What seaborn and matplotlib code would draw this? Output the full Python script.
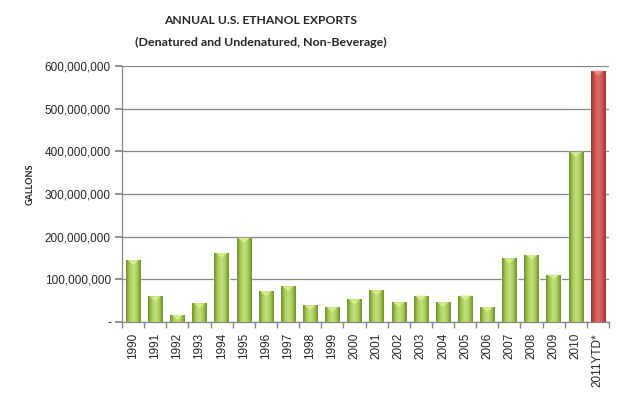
import numpy as np
import pandas as pd
import matplotlib
matplotlib.use("Agg")
import matplotlib.pyplot as plt
import seaborn as sns
from matplotlib.colors import LinearSegmentedColormap
from matplotlib.patches import Polygon

years = ["1990", "1991", "1992", "1993", "1994", "1995", "1996", "1997", "1998", "1999",
         "2000", "2001", "2002", "2003", "2004", "2005", "2006", "2007", "2008", "2009",
         "2010", "2011YTD*"]
gallons = [145e6, 60e6, 17e6, 44e6, 162e6, 197e6, 72e6, 84e6, 39e6, 35e6,
           53e6, 74e6, 46e6, 62e6, 46e6, 62e6, 35e6, 149e6, 157e6, 111e6,
           398e6, 589e6]
kind = ["annual"] * 21 + ["ytd"]
yticks = [0, 100e6, 200e6, 300e6, 400e6, 500e6, 600e6]
ytick_labels = ["-", "100,000,000", "200,000,000", "300,000,000", "400,000,000",
                "500,000,000", "600,000,000"]

df = pd.DataFrame({"year": years, "gallons": gallons, "kind": kind})

sns.set_theme(style="white")
plt.rcParams["font.family"] = ["Liberation Sans", "DejaVu Sans"]
title_family = ["Lato", "DejaVu Sans"]

fig = plt.figure(figsize=(6.24, 3.94), dpi=100)
ax = fig.add_axes([122/624, 1 - 322/394, (609-122)/624, (322-66)/394])

palette = {"annual": "#9bbb59", "ytd": "#c0504d"}
sns.barplot(data=df, x="year", y="gallons", hue="kind", palette=palette,
            width=0.65, dodge=False, legend=False, ax=ax, zorder=3, saturation=1)

cmaps = {
    "annual": LinearSegmentedColormap.from_list("g", ["#6f8f2a", "#a9cc5c", "#c2e07a", "#a9cc5c", "#6f8f2a"]),
    "ytd": LinearSegmentedColormap.from_list("r", ["#9a3431", "#cf5652", "#dc6a66", "#cf5652", "#9a3431"]),
}
cap_colors = {"annual": "#d4ec8c", "ytd": "#e88a86"}
grad = np.linspace(0, 1, 64).reshape(1, -1)
cap_depth = 12e6
for patch, k in zip(list(ax.patches), kind):
    x0, y0 = patch.get_x(), patch.get_y()
    w, h = patch.get_width(), patch.get_height()
    im = ax.imshow(grad, extent=[x0, x0 + w, y0, y0 + h], aspect="auto",
                   cmap=cmaps[k], zorder=3.5, interpolation="bicubic")
    im.set_clip_path(patch)
    d = min(cap_depth, h * 0.8)
    top = y0 + h
    cap = Polygon([(x0 + w * 0.12, top), (x0 + w * 0.88, top), (x0 + w / 2, top - d)],
                  closed=True, facecolor=cap_colors[k], edgecolor="none", zorder=3.6)
    ax.add_patch(cap)

ax.set_xlim(-0.5, len(years) - 0.5)
ax.set_ylim(0, 600e6)
ax.set_yticks(yticks)
ax.set_yticklabels(ytick_labels, fontsize=8.5)
ax.set_xticks(range(len(years)))
ax.set_xticklabels(years, rotation=90, fontsize=8.5)
ax.grid(axis="y", color="#868686", linewidth=0.9, zorder=0)
ax.set_axisbelow(True)

for s in ["top", "right"]:
    ax.spines[s].set_visible(False)
for s in ["left", "bottom"]:
    ax.spines[s].set_color("#868686")
    ax.spines[s].set_linewidth(0.9)

ax.tick_params(axis="x", length=0, pad=8)
ax.tick_params(axis="y", length=5, color="#868686", left=True, pad=3)
ax.set_xticks(np.arange(-0.5, len(years), 1), minor=True)
ax.tick_params(axis="x", which="minor", length=4, color="#868686", bottom=True)

ax.set_xlabel("")
ax.set_ylabel("")
fig.text(30/624, 1 - 184/394, "GALLONS", rotation=90, ha="center", va="center",
         fontsize=6.5, fontweight="bold", family=title_family)

fig.text(261/624, 1 - 20/394, "ANNUAL U.S. ETHANOL EXPORTS", ha="center", va="center",
         fontsize=8.7, fontweight="bold", family=title_family)
fig.text(261/624, 1 - 42/394, "(Denatured and Undenatured, Non-Beverage)", ha="center",
         va="center", fontsize=8.9, fontweight="bold", family=title_family)

fig.savefig("out.png", dpi=100)
